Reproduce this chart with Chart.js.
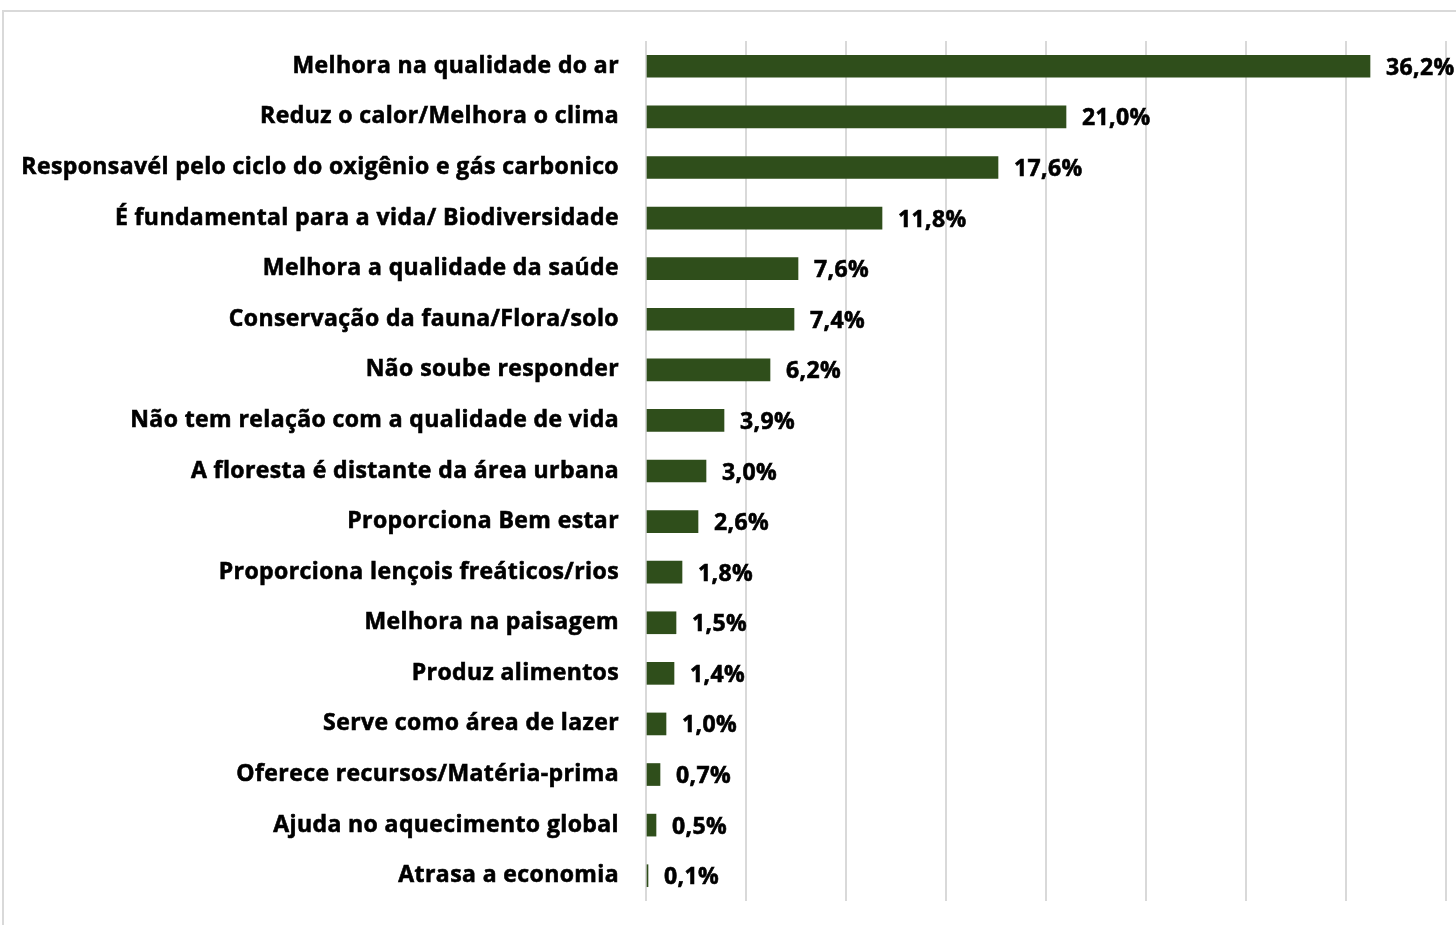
<!DOCTYPE html>
<html>
<head>
<meta charset="utf-8">
<script src="https://cdn.jsdelivr.net/npm/chart.js@4"></script>
<style>
    html, body { margin: 0; padding: 0; background: #fff; overflow: hidden; }
    #wrap { position: relative; width: 1456px; height: 925px; }
    #frame {
        position: absolute; left: 2px; top: 10px; width: 1470px; height: 940px;
        border: 2px solid #d9d9d9; pointer-events: none;
    }
</style>
</head>
<body>
<div id="wrap">
    <canvas id="benefitChart" width="1456" height="925"></canvas>
    <div id="frame"></div>
</div>
<script>
const categories = [
    'Melhora na qualidade do ar',
    'Reduz o calor/Melhora o clima',
    'Responsavél pelo ciclo do oxigênio e gás carbonico',
    'É fundamental para a vida/ Biodiversidade',
    'Melhora a qualidade da saúde',
    'Conservação da fauna/Flora/solo',
    'Não soube responder',
    'Não tem relação com a qualidade de vida',
    'A floresta é distante da área urbana',
    'Proporciona Bem estar',
    'Proporciona lençois freáticos/rios',
    'Melhora na paisagem',
    'Produz alimentos',
    'Serve como área de lazer',
    'Oferece recursos/Matéria-prima',
    'Ajuda no aquecimento global',
    'Atrasa a economia'
];
const percentages = [36.2, 21.0, 17.6, 11.8, 7.6, 7.4, 6.2, 3.9, 3.0, 2.6, 1.8, 1.5, 1.4, 1.0, 0.7, 0.5, 0.1];
const axisMax = 40;
const axisStep = 5;

const labelFont = { family: 'Open Sans', size: 23, weight: 'bold' };
const spacing = '0.4px';
const strokeW = 0.6;

// a bit of letter spacing so the text runs as wide as the original
const textSpacing = {
    id: 'textSpacing',
    beforeUpdate(chart) { chart.ctx.letterSpacing = spacing; },
    beforeLayout(chart) { chart.ctx.letterSpacing = spacing; },
    beforeDraw(chart) { chart.ctx.letterSpacing = spacing; }
};

// draws "36,2%" style labels next to each bar
const valueLabels = {
    id: 'valueLabels',
    afterDatasetsDraw(chart) {
        const ctx = chart.ctx;
        const meta = chart.getDatasetMeta(0);
        ctx.save();
        ctx.font = `bold ${labelFont.size}px "${labelFont.family}"`;
        ctx.letterSpacing = spacing;
        ctx.fillStyle = '#000';
        ctx.strokeStyle = '#000';
        ctx.lineWidth = strokeW;
        ctx.textBaseline = 'middle';
        ctx.textAlign = 'left';
        meta.data.forEach((bar, i) => {
            const txt = percentages[i].toFixed(1).replace('.', ',') + '%';
            ctx.strokeText(txt, bar.x + 16, bar.y + 2);
            ctx.fillText(txt, bar.x + 16, bar.y + 2);
        });
        ctx.restore();
    }
};

// vertical shading on the bars, darker at the top edge
function barFill(context) {
    const el = context.element;
    const c = context.chart.ctx;
    if (!el || !el.height) return '#2f4e1b';
    const top = el.y - el.height / 2;
    const g = c.createLinearGradient(0, top, 0, top + el.height);
    g.addColorStop(0, '#1b2e0f');
    g.addColorStop(0.3, '#2f4f1c');
    g.addColorStop(1, '#31521d');
    return g;
}

const ctx = document.getElementById('benefitChart').getContext('2d');
new Chart(ctx, {
    type: 'bar',
    data: {
        labels: categories,
        datasets: [{
            data: percentages,
            backgroundColor: barFill,
            borderWidth: 0,
            barThickness: 22
        }]
    },
    plugins: [textSpacing, valueLabels],
    options: {
        indexAxis: 'y',
        responsive: false,
        animation: false,
        layout: { padding: { top: 41, bottom: 24, left: 0, right: 10 } },
        plugins: {
            legend: { display: false },
            tooltip: { enabled: false }
        },
        scales: {
            x: {
                min: 0,
                max: axisMax,
                ticks: { display: false, stepSize: axisStep },
                grid: { color: '#d9d9d9', lineWidth: 2, drawTicks: false },
                border: { display: false },
                afterFit: (scale) => { scale.height = 0; }
            },
            y: {
                grid: { display: false },
                border: { display: false },
                ticks: {
                    color: '#000',
                    font: labelFont,
                    padding: 19,
                    textStrokeColor: '#000',
                    textStrokeWidth: strokeW
                },
                afterFit: (scale) => {
                    scale.width = 646;
                    scale.paddingTop = 0;
                    scale.paddingBottom = 0;
                }
            }
        }
    }
});
</script>
</body>
</html>
